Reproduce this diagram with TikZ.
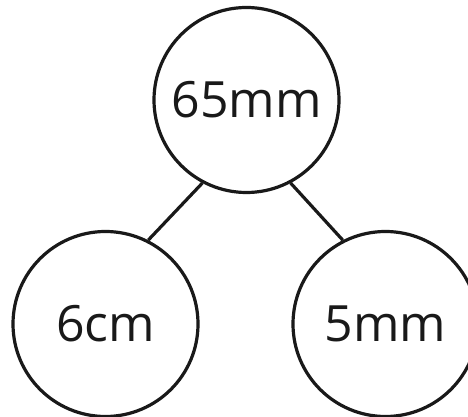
\documentclass[tikz,border=0pt]{standalone}
\usepackage{fontspec}
\setmainfont{Open Sans}
\begin{document}
\begin{tikzpicture}[x=1pt,y=1pt,
  numcircle/.style={circle,draw=black!90,line width=3.2pt,minimum size=185pt,inner sep=0pt,font=\fontsize{50}{60}\selectfont,text=black!90},
  link/.style={draw=black!90,line width=3.2pt}]
\clip (0,0) rectangle (468,417);
\useasboundingbox (0,0) rectangle (468,417);
\node[numcircle] (top) at (246.5,317) {65mm};
\node[numcircle] (bl) at (105.5,93) {6cm};
\node[numcircle] (br) at (385.5,93) {5mm};
\draw[link] (top.242) -- (bl.63);
\draw[link] (top.298) -- (br.117);
\end{tikzpicture}
\end{document}
